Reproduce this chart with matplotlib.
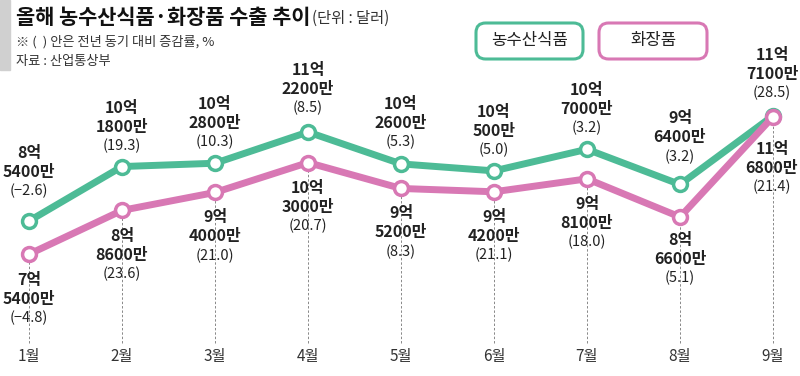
import matplotlib as mpl
mpl.use("Agg")
import matplotlib.pyplot as plt
from matplotlib.patches import FancyBboxPatch, Rectangle

plt.rcParams['font.family'] = ['Noto Sans CJK KR', 'DejaVu Sans']

months = ['1월', '2월', '3월', '4월', '5월', '6월', '7월', '8월', '9월']
# export value, unit: 100 million dollars
agri = [8.54, 10.18, 10.28, 11.22, 10.26, 10.05, 10.70, 9.64, 11.71]
cosm = [7.54, 8.86, 9.40, 10.30, 9.52, 9.42, 9.81, 8.66, 11.68]
agri_eok = ['8억', '10억', '10억', '11억', '10억', '10억', '10억', '9억', '11억']
agri_man = ['5400만', '1800만', '2800만', '2200만', '2600만', '500만', '7000만', '6400만', '7100만']
cosm_eok = ['7억', '8억', '9억', '10억', '9억', '9억', '9억', '8억', '11억']
cosm_man = ['5400만', '8600만', '4000만', '3000만', '5200만', '4200만', '8100만', '6600만', '6800만']
agri_pct = ['(−2.6)', '(19.3)', '(10.3)', '(8.5)', '(5.3)', '(5.0)', '(3.2)', '(3.2)', '(28.5)']
cosm_pct = ['(−4.8)', '(23.6)', '(21.0)', '(20.7)', '(8.3)', '(21.1)', '(18.0)', '(5.1)', '(21.4)']

GREEN = '#4dbb96'
PINK = '#d878b4'
INK = '#222222'

fig = plt.figure(figsize=(8, 3.76), dpi=100)
ax = fig.add_axes([0, 0, 1, 1])
ax.set_xlim(-0.312, 8.29)
ax.set_ylim(3.871, 15.197)
ax.axis('off')

x = list(range(len(months)))

# dashed guides
for i in x:
    ax.plot([i, i], [4.85, cosm[i]], ls=(0, (2.5, 2)), lw=0.7, color='#888888', zorder=1)

ax.plot(x, agri, color=GREEN, lw=5, solid_capstyle='round', zorder=3)
ax.plot(x, agri, 'o', ms=10, mfc='white', mec=GREEN, mew=2.5, zorder=4)
ax.plot(x, cosm, color=PINK, lw=5, solid_capstyle='round', zorder=5)
ax.plot(x, cosm, 'o', ms=10, mfc='white', mec=PINK, mew=2.5, zorder=6)

# label gaps (px) for fine placement
up_gap = [30, 21, 21, 24, 22, 21, 21, 28, 23]
dn_gap = [26, 26, 25, 25, 25, 25, 25, 23, 32]
dx = [0, 0, 0, 0, 0, 0, 0, 0, -1]
LS = 19  # line step, px

pt = 72 / 100


def put(txt, i, y, dy, bold):
    ax.annotate(txt, (i, y), xytext=(dx[i] * pt, dy * pt), textcoords='offset points',
                ha='center', va='center', fontsize=11.5 if bold else 10.5,
                fontweight='bold' if bold else 'normal', color=INK, zorder=7)


for i in x:
    put(agri_pct[i], i, agri[i], up_gap[i], False)
    put(agri_man[i], i, agri[i], up_gap[i] + LS, True)
    put(agri_eok[i], i, agri[i], up_gap[i] + 2 * LS, True)
    put(cosm_eok[i], i, cosm[i], -dn_gap[i], True)
    put(cosm_man[i], i, cosm[i], -dn_gap[i] - LS, True)
    put(cosm_pct[i], i, cosm[i], -dn_gap[i] - 2 * LS, False)

# month labels
for i, m in enumerate(months):
    fig.text((29 + i * 93) / 800, 1 - 356 / 376, m, ha='center', va='center',
             fontsize=11, color='#333333')

# header
fig.patches.append(Rectangle((0, 1 - 70 / 376), 10 / 800, 70 / 376,
                             transform=fig.transFigure, color='#d0d0d0', zorder=0))
fig.text(16 / 800, 1 - 17 / 376, '올해 농수산식품·화장품 수출 추이', fontsize=15,
         fontweight='bold', va='center', ha='left', color='#111111')
fig.text(312 / 800, 1 - 18 / 376, '(단위 : 달러)', fontsize=11, va='center',
         ha='left', color='#333333')
fig.text(16 / 800, 1 - 42 / 376, '※ (  ) 안은 전년 동기 대비 증감률, %', fontsize=9.5,
         va='center', ha='left', color='#333333')
fig.text(16 / 800, 1 - 61 / 376, '자료 : 산업통상부', fontsize=9.5,
         va='center', ha='left', color='#333333')

# legend boxes
for (x0, x1, col, name) in [(476, 583, GREEN, '농수산식품'), (599, 707, PINK, '화장품')]:
    box = FancyBboxPatch((x0 / 800, 1 - 59 / 376), (x1 - x0) / 800, 36 / 376,
                         boxstyle='round,pad=0,rounding_size=0.012',
                         transform=fig.transFigure, fc='white', ec=col, lw=2.2,
                         mutation_aspect=800 / 376)
    fig.patches.append(box)
    fig.text((x0 + x1) / 2 / 800, 1 - 41 / 376, name, fontsize=12, ha='center',
             va='center', color='#222222')

fig.savefig('out.png', dpi=100)
